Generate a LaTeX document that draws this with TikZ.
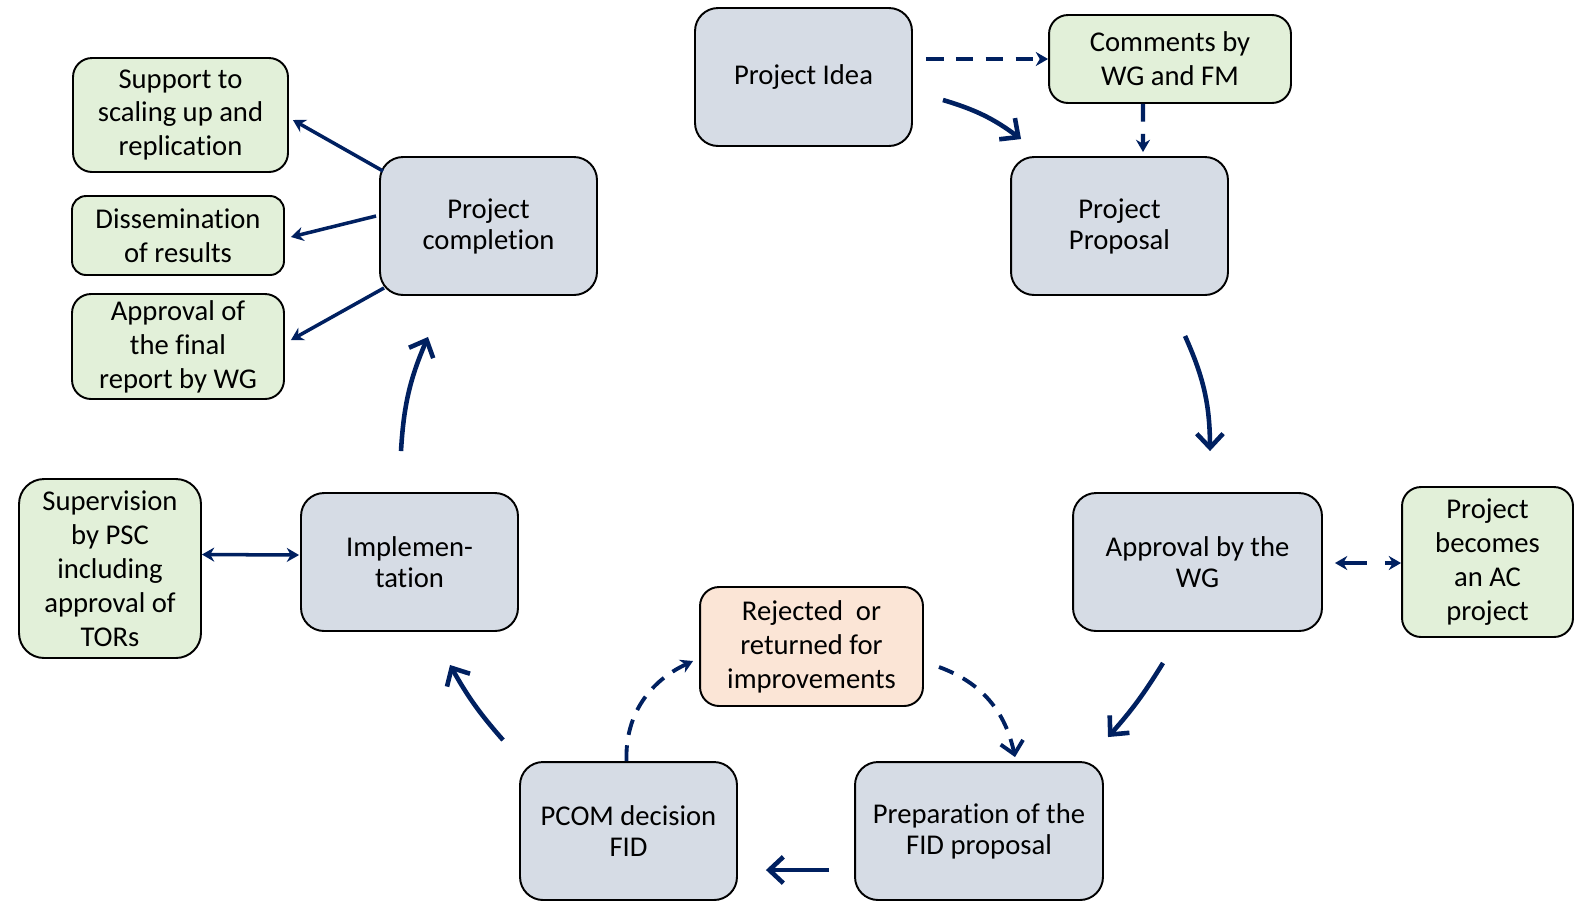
\documentclass[tikz,border=0pt]{standalone}
\usepackage{fontspec}
\setmainfont{Carlito}[Ligatures=NoCommon]
\usepackage{tikz}
\usetikzlibrary{arrows.meta}
\usetikzlibrary{calc}
\usetikzlibrary{positioning}

\definecolor{navy}{HTML}{002060}
\definecolor{stagefill}{HTML}{D6DCE5}
\definecolor{notefill}{HTML}{E2F0D9}
\definecolor{rejectfill}{HTML}{FBE5D6}

\tikzset{
  box/.style={draw=black, line width=1.1pt, align=center, inner sep=2pt},
  stage/.style={box, fill=stagefill, rounded corners=0.46cm,
    font=\fontsize{16.3pt}{17.6pt}\selectfont,
    minimum width=4.34cm, minimum height=2.76cm},
  note/.style={box, fill=notefill, rounded corners=0.38cm,
    font=\fontsize{16.3pt}{19.3pt}\selectfont},
  reject/.style={box, fill=rejectfill, rounded corners=0.38cm,
    font=\fontsize{16.3pt}{19.3pt}\selectfont},
  flow/.style={draw=navy, line width=2.6pt,
    -{Straight Barb[length=8pt,width=15pt]}},
  spoke/.style={draw=navy, line width=2pt,
    -{Stealth[length=7pt,width=8pt]}},
  link/.style={draw=navy, line width=2pt,
    {Stealth[length=7pt,width=8pt]}-{Stealth[length=7pt,width=8pt]}},
  dflow/.style={draw=navy, line width=2.5pt, dash pattern=on 10pt off 7pt,
    -{Stealth[length=7pt,width=8pt]}},
  dlink/.style={draw=navy, line width=2.5pt, dash pattern=on 14pt off 10pt,
    {Stealth[length=7pt,width=8pt]}-{Stealth[length=7pt,width=8pt]}},
  dcurve/.style={draw=navy, line width=2.2pt, dash pattern=on 9pt off 6pt,
    -{Stealth[length=7pt,width=8pt]}},
}

\begin{document}
\begin{tikzpicture}[x=0.02cm, y=-0.02cm]
\useasboundingbox (0,0) rectangle (1574,904);

% the cycle
\node[stage] (idea) at (803.5,77) {Project Idea};
\node[stage] (proposal) at (1119.5,226) {Project\\Proposal};
\node[stage, minimum width=4.98cm] (approval) at (1197.5,562) {Approval by the\\WG};
\node[stage, minimum width=4.96cm] (prep) at (979,831) {Preparation of the\\FID proposal};
\node[stage] (pcom) at (628.5,831) {PCOM decision\\FID};
\node[stage] (impl) at (409.5,562) {Implemen-\\tation};
\node[stage] (completion) at (488.5,226) {Project\\completion};

% side boxes
\node[note, minimum width=4.84cm, minimum height=1.76cm] (comments) at (1170,59) {Comments by\\WG and FM};
\node[note, minimum width=3.42cm, minimum height=3.0cm] (ac) at (1487.5,562) {Project\\becomes\\an AC\\project};
\node[reject, minimum width=4.46cm, minimum height=2.38cm] (rejected) at (811.5,646.5) {Rejected\ \ or\\returned for\\improvements};
\node[note, minimum width=3.64cm, minimum height=3.58cm, rounded corners=0.5cm] (supervision) at (110,568.5) {Supervision\\by PSC\\including\\approval of\\TORs};
\node[note, minimum width=4.30cm, minimum height=2.28cm] (support) at (180.5,115) {Support to\\scaling up and\\replication};
\node[note, minimum width=4.24cm, minimum height=1.58cm, rounded corners=0.28cm] (dissem) at (178,235.5) {Dissemination\\of results};
\node[note, minimum width=4.24cm, minimum height=2.10cm] (final) at (178,346.5) {Approval of\\the final\\report by WG};

% main flow
\draw[flow] ($(idea.east)+(30,23)$) to[bend left=10] ($(proposal.north west)+(11,-17)$);
\draw[flow] ($(proposal.south)+(65.5,40)$) to[bend left=12] ($(approval.north)+(12.5,-41)$);
\draw[flow] ($(approval.south)+(-34.5,31)$) to[bend left=5] ($(prep.north)+(129,-24)$);
\draw[flow] ($(prep.west)+(-25,39)$) -- ($(pcom.east)+(28,39)$);
\draw[flow] ($(pcom.north west)+(-16,-21)$) to[bend left=6] ($(impl.south)+(40.5,33)$);
\draw[flow] ($(impl.north)+(-8.5,-41)$) to[bend left=10] ($(completion.south)+(-60.5,41)$);

% side links
\draw[dflow] ($(idea.east)+(13,-18)$) -- (comments.west);
\draw[dflow] ($(comments.south)+(-27,0)$) -- ($(proposal.north)+(23.5,-4)$);
\draw[dlink] ($(approval.east)+(12,1)$) -- ($(ac.west)+(0,1)$);
\draw[dcurve] ($(pcom.north)+(-2,0)$) to[out=92,in=205] ($(rejected.west)+(-6,14.5)$);
\draw[dcurve, -{Straight Barb[length=7pt,width=13pt]}] ($(rejected.east)+(15,20.5)$) to[out=-20,in=102] ($(prep.north)+(36,-4)$);
\draw[link] ($(supervision.east)+(0,-14)$) -- ($(impl.west)+(-1,-7)$);
\draw[spoke] ($(completion.north west)+(4,15)$) -- ($(support.east)+(4,5)$);
\draw[spoke] ($(completion.west)+(-3,-10)$) -- ($(dissem.east)+(6,1.5)$);
\draw[spoke] ($(completion.south west)+(5,-8)$) -- ($(final.east)+(6,-6.5)$);
\end{tikzpicture}
\end{document}
